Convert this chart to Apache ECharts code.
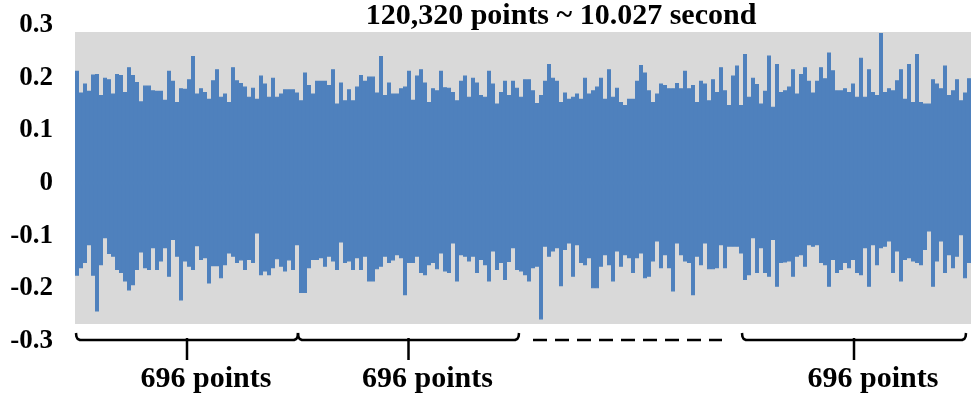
<!DOCTYPE html>
<html><head><meta charset="utf-8">
<script src="https://cdn.jsdelivr.net/npm/echarts@6/dist/echarts.min.js"></script>
<style>html,body{margin:0;padding:0;background:#fff}#c{width:975px;height:398px}</style>
</head><body><div id="c"></div>
<script>
const titleText = '120,320 points ~ 10.027 second';
const bgRange = [-0.2676, 0.2865];
const topVals = [
0.213,0.172,0.189,0.175,0.206,0.207,0.167,0.200,0.197,0.170,
0.207,0.205,0.173,0.220,0.205,0.192,0.155,0.185,0.185,0.176,
0.175,0.175,0.158,0.213,0.194,0.154,0.180,0.179,0.197,0.241,
0.170,0.180,0.173,0.160,0.195,0.216,0.164,0.170,0.154,0.220,
0.195,0.190,0.183,0.164,0.181,0.160,0.204,0.189,0.164,0.200,
0.164,0.170,0.178,0.178,0.178,0.172,0.157,0.210,0.186,0.170,
0.194,0.194,0.194,0.186,0.216,0.151,0.191,0.157,0.178,0.157,
0.183,0.205,0.194,0.202,0.202,
0.172,0.241,0.167,0.191,0.170,0.170,0.180,0.183,0.213,0.158,
0.204,0.216,0.191,0.154,0.180,0.176,0.213,0.182,0.181,0.173,
0.157,0.194,0.204,0.164,0.200,0.191,0.167,0.164,0.213,0.189,
0.151,0.173,0.194,0.167,0.194,0.181,0.164,0.197,0.197,0.176,
0.152,0.167,0.194,0.226,0.200,0.194,0.154,0.172,0.160,0.164,
0.170,0.160,0.200,0.170,0.176,0.183,0.200,0.160,0.216,0.164,
0.181,0.154,0.148,0.160,0.160,0.194,0.224,0.210,0.176,0.154,
0.170,0.189,0.186,0.180,0.180,
0.190,0.180,0.213,0.180,0.186,0.154,0.194,0.189,0.157,0.197,
0.173,0.220,0.176,0.148,0.204,0.223,0.148,0.245,0.164,0.200,
0.188,0.151,0.175,0.242,0.145,0.226,0.173,0.176,0.183,0.216,
0.170,0.207,0.220,0.194,0.172,0.194,0.220,0.199,0.248,0.214,
0.176,0.176,0.180,0.173,0.189,0.164,0.238,0.164,0.216,0.173,
0.167,0.285,0.173,0.180,0.176,0.195,0.216,0.160,0.226,0.154,
0.245,0.154,0.151,0.151,0.197,0.189,0.180,0.223,0.167,0.176,
0.197,0.157,0.172,0.199
];
const bottomVals = [
-0.176,-0.162,-0.152,-0.118,-0.176,-0.244,-0.156,-0.105,-0.135,-0.140,
-0.165,-0.171,-0.187,-0.204,-0.194,-0.165,-0.132,-0.162,-0.165,-0.124,
-0.165,-0.149,-0.124,-0.178,-0.108,-0.140,-0.223,-0.149,-0.159,-0.165,
-0.120,-0.146,-0.143,-0.191,-0.158,-0.158,-0.181,-0.156,-0.134,-0.140,
-0.152,-0.147,-0.165,-0.146,-0.152,-0.096,-0.175,-0.168,-0.175,-0.162,
-0.145,-0.159,-0.168,-0.147,-0.165,-0.118,-0.209,-0.209,-0.162,-0.146,
-0.146,-0.143,-0.159,-0.140,-0.149,-0.165,-0.113,-0.152,-0.149,-0.165,
-0.143,-0.165,-0.140,-0.187,-0.187,
-0.164,-0.159,-0.140,-0.152,-0.147,-0.137,-0.143,-0.213,-0.152,-0.152,
-0.140,-0.171,-0.175,-0.156,-0.152,-0.164,-0.134,-0.168,-0.171,-0.115,
-0.187,-0.137,-0.140,-0.149,-0.140,-0.171,-0.146,-0.156,-0.187,-0.130,
-0.165,-0.152,-0.184,-0.150,-0.124,-0.165,-0.168,-0.175,-0.187,-0.162,
-0.159,-0.259,-0.121,-0.140,-0.130,-0.124,-0.196,-0.127,-0.115,-0.178,
-0.118,-0.152,-0.156,-0.143,-0.200,-0.200,-0.159,-0.137,-0.156,-0.187,
-0.130,-0.159,-0.137,-0.143,-0.171,-0.143,-0.134,-0.181,-0.178,-0.149,
-0.111,-0.162,-0.137,-0.162,-0.206,
-0.115,-0.137,-0.149,-0.152,-0.213,-0.140,-0.156,-0.115,-0.164,-0.164,
-0.162,-0.118,-0.162,-0.121,-0.121,-0.121,-0.134,-0.184,-0.175,-0.105,
-0.171,-0.124,-0.171,-0.178,-0.108,-0.197,-0.152,-0.151,-0.149,-0.178,
-0.140,-0.137,-0.159,-0.118,-0.121,-0.118,-0.152,-0.156,-0.197,-0.146,
-0.171,-0.165,-0.152,-0.162,-0.146,-0.171,-0.175,-0.124,-0.197,-0.118,
-0.156,-0.124,-0.121,-0.111,-0.171,-0.130,-0.187,-0.146,-0.143,-0.149,
-0.152,-0.156,-0.127,-0.092,-0.197,-0.149,-0.111,-0.171,-0.137,-0.162,
-0.140,-0.099,-0.181,-0.152
];
const brackets = [[0.25, 55.75], [55.75, 111], [166.75, 222.75]];
const dashedSpan = [114.5, 161.75];
const bracketLabels = ['696 points', '696 points', '696 points'];
const categories = topVals.map((_, i) => i);

const FONT = '"Liberation Serif","Times New Roman",serif';
const BLUE = '#4F81BD';
const chart = echarts.init(document.getElementById('c'), null, {renderer: 'canvas'});
chart.setOption({
  animation: false,
  grid: {left: 75, right: 4, top: 25, bottom: 57},
  xAxis: {type: 'category', data: categories, show: false, boundaryGap: true},
  yAxis: {
    type: 'value', min: -0.3, max: 0.3, interval: 0.1,
    axisLine: {show: false}, axisTick: {show: false}, splitLine: {show: false},
    axisLabel: {margin: 22, fontFamily: FONT, fontWeight: 'bold', fontSize: 27, color: '#000',
      formatter: v => String(+v.toFixed(1))}
  },
  series: [
    {type: 'line', data: [], z: 1, silent: true,
     markArea: {silent: true, itemStyle: {color: '#D9D9D9', opacity: 1},
       data: [[{yAxis: bgRange[0]}, {yAxis: bgRange[1]}]]}},
    {type: 'bar', data: topVals, z: 3, barCategoryGap: '0%', barGap: '-100%',
     itemStyle: {color: BLUE, borderColor: BLUE, borderWidth: 1.2}},
    {type: 'bar', data: bottomVals, z: 3, barCategoryGap: '0%', barGap: '-100%',
     itemStyle: {color: BLUE, borderColor: BLUE, borderWidth: 1.2}}
  ]
});

const p0 = chart.convertToPixel({xAxisIndex: 0}, 0);
const p1 = chart.convertToPixel({xAxisIndex: 0}, 1);
const step = p1 - p0;
const left0 = p0 - step / 2;
const px = u => left0 + u * step;
const yb = Math.round(chart.convertToPixel({yAxisIndex: 0}, -0.3)) - 1;
const lineStyle = {stroke: '#000', lineWidth: 2.5, fill: null, lineJoin: 'round', lineCap: 'butt'};
const gr = [];
gr.push({type: 'text', x: 561, y: 16, z: 10,
  style: {text: titleText, fontFamily: FONT, fontWeight: 'bold', fontSize: 30, fill: '#000',
    align: 'center', verticalAlign: 'middle', textAlign: 'center', textVerticalAlign: 'middle'}});
brackets.forEach((b, i) => {
  const x0 = px(b[0]), x1 = px(b[1]), xm = (x0 + x1) / 2;
  gr.push({type: 'polyline', z: 10, shape: {points: [
    [x0, yb - 7], [x0 + 0.4, yb - 3.5], [x0 + 1.5, yb - 1.2], [x0 + 4, yb],
    [x1 - 4, yb], [x1 - 1.5, yb - 1.2], [x1 - 0.4, yb - 3.5], [x1, yb - 7]]}, style: lineStyle});
  gr.push({type: 'line', z: 10, shape: {x1: xm, y1: yb - 2, x2: xm, y2: yb + 20}, style: lineStyle});
  gr.push({type: 'text', x: xm + 19, y: yb + 39, z: 10,
    style: {text: bracketLabels[i], fontFamily: FONT, fontWeight: 'bold', fontSize: 30, fill: '#000',
      align: 'center', verticalAlign: 'middle', textAlign: 'center', textVerticalAlign: 'middle'}});
});
gr.push({type: 'line', z: 10, shape: {x1: px(dashedSpan[0]), y1: yb, x2: px(dashedSpan[1]), y2: yb},
  style: {stroke: '#000', lineWidth: 2.5, lineDash: [14, 8]}});
chart.setOption({graphic: gr});
</script>
</body></html>
